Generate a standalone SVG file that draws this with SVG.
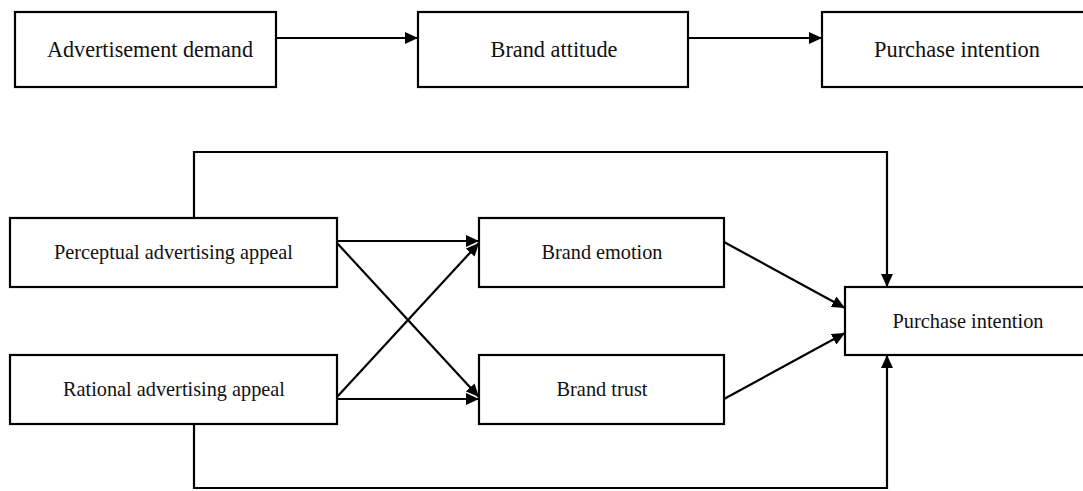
<svg xmlns="http://www.w3.org/2000/svg" width="1083" height="491" viewBox="0 0 1083 491">
<style>
.box{fill:#fff;stroke:#000;stroke-width:2.2}
.t{font-family:"Liberation Serif","Times New Roman",serif;fill:#111;text-anchor:middle}
.c{fill:none;stroke:#000;stroke-width:2.2}
</style>
<defs>
<marker id="ah" markerUnits="userSpaceOnUse" markerWidth="14" markerHeight="12" refX="13" refY="6" orient="auto">
<path d="M0,0 L13,6 L0,12 Z" fill="#000"/>
</marker>
</defs>
<rect width="1083" height="491" fill="#fff"/>
<g id="connectors">
<line class="c" x1="276" y1="38" x2="418" y2="38" marker-end="url(#ah)"/>
<line class="c" x1="688" y1="38" x2="822" y2="38" marker-end="url(#ah)"/>
<line class="c" x1="337" y1="241" x2="479" y2="241" marker-end="url(#ah)"/>
<line class="c" x1="337" y1="243" x2="479" y2="397" marker-end="url(#ah)"/>
<line class="c" x1="337" y1="399" x2="479" y2="399" marker-end="url(#ah)"/>
<line class="c" x1="337" y1="397" x2="479" y2="243" marker-end="url(#ah)"/>
<line class="c" x1="724" y1="242" x2="845" y2="308" marker-end="url(#ah)"/>
<line class="c" x1="724" y1="399" x2="845" y2="333" marker-end="url(#ah)"/>
<polyline class="c" points="194,218 194,152 887,152 887,287" marker-end="url(#ah)"/>
<polyline class="c" points="194,424 194,488 887,488 887,355" marker-end="url(#ah)"/>
</g>
<g id="n-ad-demand"><rect class="box" x="15" y="12" width="261" height="75"/><text class="t" x="150" y="57" font-size="22.5" textLength="206" lengthAdjust="spacingAndGlyphs">Advertisement demand</text></g>
<g id="n-brand-attitude"><rect class="box" x="418" y="12" width="270" height="75"/><text class="t" x="554" y="57" font-size="22.5" textLength="127" lengthAdjust="spacingAndGlyphs">Brand attitude</text></g>
<g id="n-purchase-top"><rect class="box" x="822" y="12" width="270" height="75"/><text class="t" x="957" y="57" font-size="22.5" textLength="166" lengthAdjust="spacingAndGlyphs">Purchase intention</text></g>
<g id="n-perceptual"><rect class="box" x="10" y="218" width="327" height="69"/><text class="t" x="173.5" y="259" font-size="21" textLength="239" lengthAdjust="spacingAndGlyphs">Perceptual advertising appeal</text></g>
<g id="n-rational"><rect class="box" x="10" y="355" width="327" height="69"/><text class="t" x="174" y="396" font-size="21" textLength="222" lengthAdjust="spacingAndGlyphs">Rational advertising appeal</text></g>
<g id="n-brand-emotion"><rect class="box" x="479" y="218" width="245" height="69"/><text class="t" x="602" y="259" font-size="21" textLength="121" lengthAdjust="spacingAndGlyphs">Brand emotion</text></g>
<g id="n-brand-trust"><rect class="box" x="479" y="355" width="245" height="69"/><text class="t" x="602" y="396" font-size="21" textLength="91" lengthAdjust="spacingAndGlyphs">Brand trust</text></g>
<g id="n-purchase"><rect class="box" x="845" y="287" width="247" height="68"/><text class="t" x="968" y="328" font-size="21" textLength="151" lengthAdjust="spacingAndGlyphs">Purchase intention</text></g>
</svg>
